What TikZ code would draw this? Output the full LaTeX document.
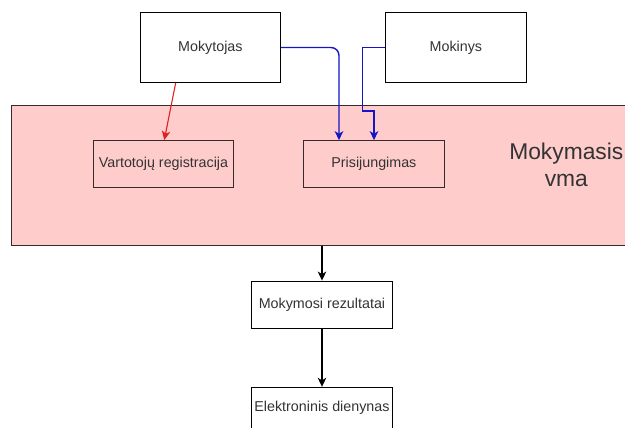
\documentclass[tikz,border=0pt]{standalone}
\usepackage{fontspec}
\setmainfont{Liberation Sans}
\usetikzlibrary{arrows.meta}
\definecolor{pinkfill}{RGB}{255,204,204}
\definecolor{darkedge}{RGB}{54,42,42}
\definecolor{textgray}{RGB}{51,51,51}
\definecolor{linkblue}{RGB}{20,20,200}
\definecolor{linkred}{RGB}{224,32,32}
\begin{document}
\begin{tikzpicture}[x=1pt,y=-1pt,
  box/.style={draw=black, line width=1pt, fill=white, inner sep=0pt,
    minimum width=140.6pt, minimum height=47pt,
    font=\fontsize{14.3}{17}\selectfont, text=textgray},
  inbox/.style={box, draw=darkedge, fill=none},
  tip/.style={-{Stealth[length=9pt,width=8.5pt,inset=2.5pt]}},
  flow/.style={tip, line width=1.1pt, black},
  bluelink/.style={tip, line width=1.4pt, linkblue},
  redlink/.style={tip, line width=1.1pt, linkred}]
\useasboundingbox (0,0) rectangle (625,428);

% system area
\node[draw=darkedge, line width=1pt, fill=pinkfill, minimum width=629pt,
      minimum height=140pt, inner sep=0pt] (system) at (325.5,175.7) {};
\node[align=center, font=\fontsize{22.8}{27}\selectfont, text=textgray,
      inner sep=0pt] (title) at (566.3,164.5) {Mokymasis\\vma};

% actors
\node[box, minimum height=69.6pt] (teacher) at (210.4,47.5) {Mokytojas};
\node[box, minimum height=69.6pt] (student) at (455.9,47.5) {Mokinys};

% functions inside the system
\node[inbox] (reg) at (163.5,164) {Vartotojų registracija};
\node[inbox] (login) at (373.9,164.2) {Prisijungimas};

% outputs
\node[box, minimum height=47.3pt] (result) at (322,304.7) {Mokymosi rezultatai};
\node[box, minimum height=42pt] (journal) at (322,408.3) {Elektroninis dienynas};

% connectors
\draw[redlink] ([xshift=-34.7pt]teacher.south) -- ([xshift=0.8pt]reg.north);
\draw[bluelink, rounded corners=8pt] (teacher.east) -| ([xshift=-34.9pt]login.north);
\draw[bluelink] (student.west) -| (362.7,111) -| ([xshift=0.1pt]login.north);
\draw[flow] (result.north |- system.south) -- (result.north);
\draw[flow] (result.south) -- (journal.north);
\end{tikzpicture}
\end{document}
